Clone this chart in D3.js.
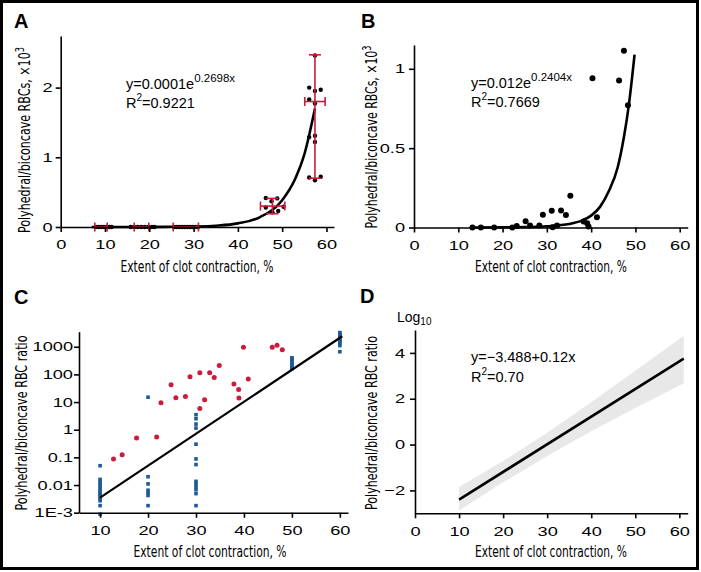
<!DOCTYPE html>
<html><head><meta charset="utf-8">
<script src="https://cdn.jsdelivr.net/npm/d3@7/dist/d3.min.js"></script>
<style>
body{margin:0;background:#fff}
svg text{font-family:"Liberation Sans",Arial,sans-serif;fill:#000}
</style></head><body>
<svg id="chart" width="701" height="572"></svg>
<script>
// ---------------- DATA ----------------
const xTickVals = [0,10,20,30,40,50,60];
const cXTickVals = [10,20,30,40,50,60];
const aYTickVals = [0,1,2];
const aYTickLabels = ["0","1","2"];
const bYTickVals = [0,0.5,1];
const bYTickLabels = ["0","0.5","1"];
const cYTickVals = [0.001,0.01,0.1,1,10,100,1000];
const cYTickLabels = ["1E-3","0.01","0.1","1","10","100","1000"];
const dYTickVals = [-2,0,2,4];
const dYTickLabels = ["\u22122","0","2","4"];

// Panel A: individual points
const aPtX = [8.0,8.6,9.2,9.8,10.4,11.0,11.5,
              15.8,16.6,17.4,18.2,19.0,19.8,20.6,21.2,
              25.6,26.2,26.8,27.4,28.0,28.6,29.2,29.8,30.4,31.0,
              46.3,46.3,47.6,47.8,48.9,49.1,50.3,
              57.4,56.1,58.7,57.4,56.1,57.4,56.1,57.4,57.4,56.1,58.7,57.4];
const aPtY = [0,0,0,0,0,0,0,
              0,0,0,0,0,0,0,0,
              0,0,0,0,0,0,0,0,0,0,
              0.28,0.415,0.37,0.21,0.41,0.23,0.29,
              2.46,2.0,1.97,1.95,1.83,1.77,1.29,1.31,1.22,0.71,0.72,0.67];
// Panel A: group means with error bars
const aBarX   = [9.1,18.3,28.3,47.8,57.4];
const aBarY   = [0,0,0,0.30,1.80];
const aBarXLo = [7.7,16.6,25.4,45.1,55.1];
const aBarXHi = [10.5,19.9,31.1,50.6,59.7];
const aBarYLo = [0,0,0,0.19,0.70];
const aBarYHi = [0,0,0,0.41,2.47];
// Panel A: fitted curve
const aFitX = [7,15,20,25,30,35,40,45,50,53,55,57.4];
const aFitY = [0,0.0003,0.001,0.003,0.007,0.019,0.052,0.142,0.385,0.70,1.04,1.70];

// Panel B
const bPtX = [13.2,15.1,18.1,22.2,23.2,25.2,26.2,28.3,29.1,31.1,31.3,32.3,33.2,34.3,35.3,38.3,39.1,39.4,40.3,41.3,46.3,47.4,48.3];
const bPtY = [0,0,0,0,0.01,0.04,0.013,0.013,0.08,0.105,0.002,0.013,0.107,0.078,0.20,0.038,0.027,0.006,0.94,0.065,0.926,1.113,0.771];
const bFitX = [13,20,25,30,35,38,40,42,44,46,47.4,48.5,49.8];
const bFitY = [0,0.001,0.003,0.008,0.022,0.045,0.075,0.13,0.23,0.38,0.57,0.77,1.09];

// Panel C
const cRedX = [12.8,14.6,17.6,21.8,22.7,24.8,25.8,27.8,28.75,30.8,30.8,31.8,32.85,33.8,34.85,37.9,38.9,38.95,39.9,40.9,45.9,46.9,48.0];
const cRedY = [0.087,0.125,0.50,0.55,9.4,42,14.3,16,82,114,5.9,12.1,114,77,209,45,28.5,13.9,967,68,967,1140,776];
const cBlueX = [10,10,10,10,10,10,10,10,10,10,10,10,10,10,
                20,20,20,20,20,20,20,
                30,30,30,30,30,30,30,30,30,30,30,30,30,
                50,50,50,50,50,50,50,50,50,50,
                60,60,60,60,60,60,60,60,60,60,60];
const cBlueY = [0.05,0.016,0.013,0.011,0.009,0.0075,0.0063,0.0053,0.0045,0.0038,0.0032,0.0027,0.0018,0.00088,
                15,0.02,0.011,0.0065,0.0052,0.0042,0.0018,
                3.5,2.5,1.6,1.15,0.30,0.088,0.055,0.0136,0.0112,0.0088,0.0068,0.0049,0.0018,
                160,178,198,220,245,272,300,335,370,400,
                3250,2950,2650,2400,2150,1900,1700,1500,1300,1100,660];
const cFitX = [10,60.5];
const cFitY = [0.0035,2400];

// Panel D
const dFitX = [10,61];
const dFitY = [-2.4,3.75];
const dBandX = [10,20,30,40,50,61];
const dBandHi = [-1.85,-0.72,0.52,1.85,3.22,4.75];
const dBandLo = [-2.88,-1.65,-0.5,0.58,1.6,2.68];

// ---------------- DRAWING ----------------
const svg = d3.select("#chart");
svg.append("rect").attr("width",701).attr("height",572).attr("fill","#fff");

const RED = "#cc1a3a", BLUE = "#1d5b94";
const zip = (xs, ys) => xs.map((v,i)=>[v, ys[i]]);

function styleAxis(g, stretch){
  g.attr("font-size",13).attr("font-family","Liberation Sans, Arial, sans-serif");
  g.select(".domain").attr("stroke","#000").attr("stroke-width",1.6);
  g.selectAll(".tick line").attr("stroke","#000").attr("stroke-width",1.6);
  g.selectAll(".tick text").attr("fill","#000").each(function(){
    const w = this.getComputedTextLength();
    d3.select(this).attr("textLength", w*stretch).attr("lengthAdjust","spacingAndGlyphs");
  });
}
function drawAxes(x, y, xt, yt, yl, ypad){
  const gx = svg.append("g").attr("transform",`translate(0,${y.range()[0]})`)
    .call(d3.axisBottom(x).tickValues(xt).tickSize(5).tickPadding(8).tickSizeOuter(0).tickFormat(d3.format("d")));
  styleAxis(gx, 1.4);
  const gy = svg.append("g").attr("transform",`translate(${x.range()[0]},0)`)
    .call(d3.axisLeft(y).tickValues(yt).tickSize(5).tickPadding(ypad).tickSizeOuter(0).tickFormat((d,i)=>yl[i]));
  styleAxis(gy, 1.4);
}
function title(x, y, txt, len, rot, sup){
  const t = svg.append("text").attr("text-anchor","middle").attr("font-size",16)
    .style("font-family","'Liberation Sans Narrow','DejaVu Sans Condensed','Liberation Sans',sans-serif")
    .attr("textLength",len).attr("lengthAdjust","spacingAndGlyphs");
  t.append("tspan").text(txt);
  if(sup) t.append("tspan").attr("font-size",12).attr("dy",-6).text(sup);
  if(rot) t.attr("transform",`translate(${x},${y}) rotate(-90)`);
  else t.attr("x",x).attr("y",y);
}
function letter(x, y, L){
  svg.append("text").attr("x",x).attr("y",y).attr("font-size",20).attr("font-weight","bold").text(L);
}
function eq(x, y, base, sup){
  const t = svg.append("text").attr("x",x).attr("y",y).attr("font-size",14.5);
  t.append("tspan").text(base);
  t.append("tspan").attr("font-size",11.5).attr("dy",-7).text(sup);
}
function r2(x, y, val){
  const t = svg.append("text").attr("x",x).attr("y",y).attr("font-size",14.5);
  t.append("tspan").text("R");
  t.append("tspan").attr("font-size",10).attr("dy",-7).text("2");
  t.append("tspan").attr("dy",7).text(val);
}

// ---- Panel A ----
{
  const x = d3.scaleLinear().domain([0,61.7]).range([60.7,334]);
  const y = d3.scaleLinear().domain([0,2.74]).range([227,36]);
  const line = d3.line().x(d=>x(d[0])).y(d=>y(d[1])).curve(d3.curveMonotoneX);
  svg.append("path").datum(zip(aFitX,aFitY)).attr("d",line).attr("fill","none").attr("stroke","#000").attr("stroke-width",2.6);
  svg.append("g").selectAll("circle").data(zip(aPtX,aPtY)).join("circle")
    .attr("cx",d=>x(d[0])).attr("cy",d=>y(d[1])).attr("r",2.2).attr("fill","#000");
  const eb = svg.append("g").attr("stroke",RED).attr("stroke-width",1.6).attr("fill","none");
  aBarX.forEach((mx,i)=>{
    const cy = y(aBarY[i]);
    eb.append("line").attr("x1",x(aBarXLo[i])).attr("x2",x(aBarXHi[i])).attr("y1",cy).attr("y2",cy);
    eb.append("line").attr("x1",x(aBarXLo[i])).attr("x2",x(aBarXLo[i])).attr("y1",cy-4.5).attr("y2",cy+4.5);
    eb.append("line").attr("x1",x(aBarXHi[i])).attr("x2",x(aBarXHi[i])).attr("y1",cy-4.5).attr("y2",cy+4.5);
    if(aBarYHi[i] > aBarYLo[i]){
      const cx = x(mx);
      eb.append("line").attr("x1",cx).attr("x2",cx).attr("y1",y(aBarYLo[i])).attr("y2",y(aBarYHi[i]));
      eb.append("line").attr("x1",cx-6).attr("x2",cx+6).attr("y1",y(aBarYLo[i])).attr("y2",y(aBarYLo[i]));
      eb.append("line").attr("x1",cx-6).attr("x2",cx+6).attr("y1",y(aBarYHi[i])).attr("y2",y(aBarYHi[i]));
    }
  });
  drawAxes(x,y,xTickVals,aYTickVals,aYTickLabels,3);
  title(197,272,"Extent of clot contraction, %",153,false);
  title(30,140,"Polyhedral/biconcave RBCs, \u00d710",186,true,"3");
  letter(14,28,"A");
  eq(126,89,"y=0.0001e","0.2698x");
  r2(126,108,"=0.9221");
}

// ---- Panel B ----
{
  const x = d3.scaleLinear().domain([0,61.8]).range([414,687.7]);
  const y = d3.scaleLinear().domain([0,1.15]).range([227.5,45]);
  const line = d3.line().x(d=>x(d[0])).y(d=>y(d[1])).curve(d3.curveMonotoneX);
  svg.append("path").datum(zip(bFitX,bFitY)).attr("d",line).attr("fill","none").attr("stroke","#000").attr("stroke-width",2.6);
  svg.append("g").selectAll("circle").data(zip(bPtX,bPtY)).join("circle")
    .attr("cx",d=>x(d[0])).attr("cy",d=>y(d[1])).attr("r",3).attr("fill","#000");
  drawAxes(x,y,xTickVals,bYTickVals,bYTickLabels,4);
  title(551,272,"Extent of clot contraction, %",152,false);
  title(377,137,"Polyhedral/biconcave RBCs, \u00d710",183,true,"3");
  letter(361,28,"B");
  eq(471,88,"y=0.012e","0.2404x");
  r2(471,107,"=0.7669");
}

// ---- Panel C ----
{
  const x = d3.scaleLinear().domain([5.6,61.7]).range([79,348]);
  const y = d3.scaleLog().domain([0.001,3500]).range([512.7,331.7]);
  svg.append("g").selectAll("rect").data(zip(cBlueX,cBlueY)).join("rect")
    .attr("x",d=>x(d[0])-1.8).attr("y",d=>y(d[1])-1.8).attr("width",3.6).attr("height",3.6).attr("fill",BLUE);
  svg.append("g").selectAll("circle").data(zip(cRedX,cRedY)).join("circle")
    .attr("cx",d=>x(d[0])).attr("cy",d=>y(d[1])).attr("r",2.5).attr("fill",RED);
  const line = d3.line().x(d=>x(d[0])).y(d=>y(d[1]));
  svg.append("path").datum(zip(cFitX,cFitY)).attr("d",line).attr("fill","none").attr("stroke","#000").attr("stroke-width",2.2);
  drawAxes(x,y,cXTickVals,cYTickVals,cYTickLabels,1);
  title(210,557,"Extent of clot contraction, %",153,false);
  title(27,423,"Polyhedral/biconcave RBC ratio",175,true);
  letter(14,304,"C");
}

// ---- Panel D ----
{
  const x = d3.scaleLinear().domain([0,61.9]).range([415,687.7]);
  const y = d3.scaleLinear().domain([-3,5]).range([513.3,330]);
  const area = d3.area().x(d=>x(d[0])).y0(d=>y(d[1])).y1(d=>y(d[2]));
  svg.append("path").datum(dBandX.map((v,i)=>[v,dBandLo[i],dBandHi[i]])).attr("d",area).attr("fill","#e8e8e8");
  const line = d3.line().x(d=>x(d[0])).y(d=>y(d[1]));
  svg.append("path").datum(zip(dFitX,dFitY)).attr("d",line).attr("fill","none").attr("stroke","#000").attr("stroke-width",2.6);
  drawAxes(x,y,xTickVals,dYTickVals,dYTickLabels,5);
  title(551,557,"Extent of clot contraction, %",152,false);
  title(377,423,"Polyhedral/biconcave RBC ratio",174,true);
  letter(360,303,"D");
  const lg = svg.append("text").attr("x",397).attr("y",322).attr("font-size",14);
  lg.append("tspan").text("Log");
  lg.append("tspan").attr("font-size",10).attr("dy",3).text("10");
  svg.append("text").attr("x",471).attr("y",362).attr("font-size",14.5).text("y=\u22123.488+0.12x");
  r2(471,382,"=0.70");
}

// frame
svg.append("rect").attr("x",1.5).attr("y",1.5).attr("width",696).attr("height",567)
  .attr("fill","none").attr("stroke","#000").attr("stroke-width",3);
</script>
</body></html>
